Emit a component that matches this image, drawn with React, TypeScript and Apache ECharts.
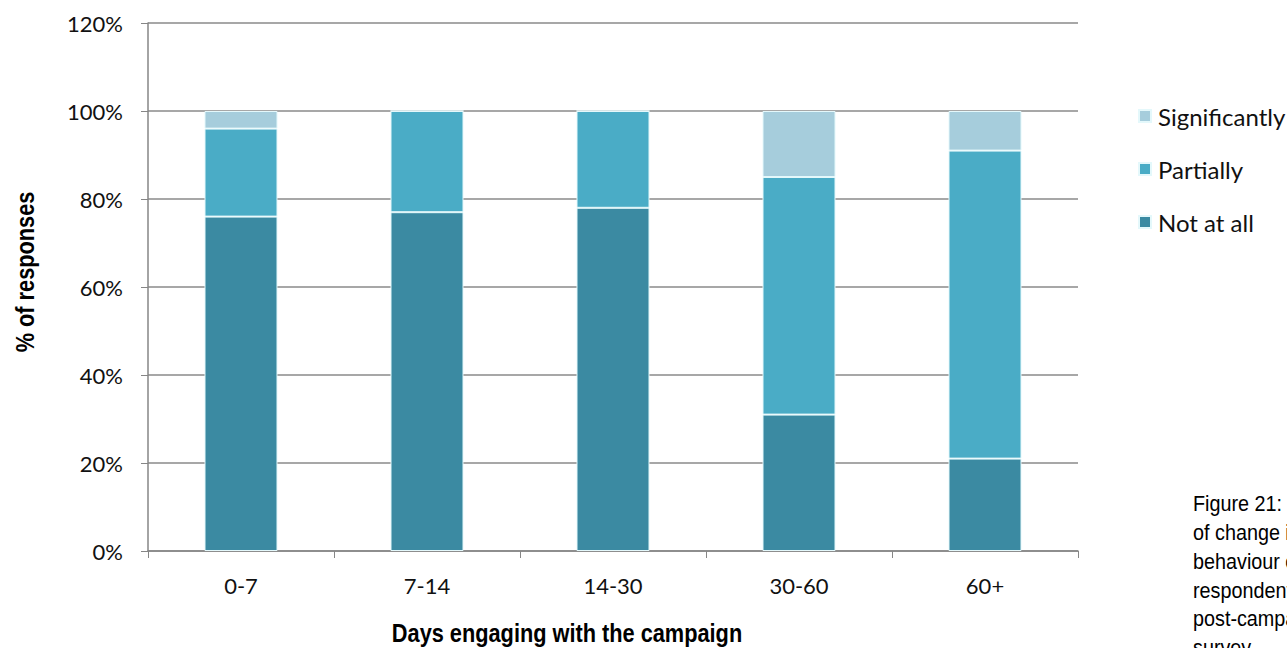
import React, { useEffect, useRef } from "react";
import * as echarts from "echarts";

// Days engaged with the campaign
const categories = ["0-7", "7-14", "14-30", "30-60", "60+"];

// Share of responses (%) per degree of behaviour change
const notAtAll = [76, 77, 78, 31, 21];
const partially = [20, 23, 22, 54, 70];
const significantly = [4, 0, 0, 15, 9];

const legendOrder = ["Significantly", "Partially", "Not at all"];

const captionLines = [
  "Figure 21: Extent",
  "of change in",
  "behaviour of",
  "respondents in",
  "post-campaign",
  "survey",
];

const LABEL_FONT = "Lato, 'Open Sans', sans-serif";
const TITLE_FONT = "'Liberation Sans', Arial, sans-serif";

export default function App() {
  const ref = useRef<HTMLDivElement>(null);

  useEffect(() => {
    if (!ref.current) return;
    const chart = echarts.init(ref.current, undefined, { renderer: "svg" });

    const barStyle = (color: string) => ({
      color,
      borderColor: "#E4F8FB",
      borderWidth: 1,
    });

    chart.setOption({
      animation: false,
      backgroundColor: "#ffffff",
      grid: { left: 148, right: 209, top: 23, bottom: 97, containLabel: false },
      legend: {
        orient: "vertical",
        left: 1133,
        top: 99,
        itemWidth: 12,
        itemHeight: 12,
        itemGap: 29,
        icon: "rect",
        data: legendOrder,
        textStyle: {
          fontFamily: LABEL_FONT,
          fontSize: 24,
          lineHeight: 24,
          color: "#111",
          padding: [0, 0, 0, 2],
        },
      },
      xAxis: {
        type: "category",
        data: categories,
        boundaryGap: true,
        axisLine: { lineStyle: { color: "#868686", width: 1.5 } },
        axisTick: { show: true, alignWithLabel: false, length: 7, lineStyle: { color: "#868686" } },
        axisLabel: { margin: 23, fontFamily: LABEL_FONT, fontSize: 22, color: "#111" },
        splitLine: { show: false },
      },
      yAxis: {
        type: "value",
        min: 0,
        max: 120,
        interval: 20,
        axisLine: { show: true, lineStyle: { color: "#868686", width: 1.5 } },
        axisTick: { show: true, length: 7, lineStyle: { color: "#868686" } },
        axisLabel: {
          formatter: "{value}%",
          margin: 25,
          fontFamily: LABEL_FONT,
          fontSize: 22,
          color: "#111",
        },
        splitLine: { show: true, lineStyle: { color: "#8a8a8a", width: 1.5 } },
      },
      series: [
        {
          name: "Not at all",
          type: "bar",
          stack: "total",
          barWidth: 73,
          data: notAtAll,
          itemStyle: barStyle("#3B8AA2"),
        },
        {
          name: "Partially",
          type: "bar",
          stack: "total",
          barWidth: 73,
          data: partially,
          itemStyle: barStyle("#4AACC6"),
        },
        {
          name: "Significantly",
          type: "bar",
          stack: "total",
          barWidth: 73,
          data: significantly,
          itemStyle: barStyle("#A6CDDC"),
        },
      ],
      graphic: [
        {
          type: "text",
          x: 25,
          y: 272,
          rotation: Math.PI / 2,
          scaleX: 0.87,
          style: {
            text: "% of responses",
            font: `bold 25px ${TITLE_FONT}`,
            fill: "#000",
            textAlign: "center",
            textVerticalAlign: "middle",
          },
        },
        {
          type: "text",
          x: 567,
          y: 633,
          scaleX: 0.87,
          style: {
            text: "Days engaging with the campaign",
            font: `bold 25px ${TITLE_FONT}`,
            fill: "#000",
            textAlign: "center",
            textVerticalAlign: "middle",
          },
        },
        {
          type: "text",
          x: 1193,
          y: 489,
          scaleX: 0.9,
          style: {
            text: captionLines.join("\n"),
            font: `22px ${TITLE_FONT}`,
            lineHeight: 28.8,
            fill: "#000",
            textAlign: "left",
            textVerticalAlign: "top",
          },
        },
      ],
    });

    return () => chart.dispose();
  }, []);

  return (
    <div
      ref={ref}
      style={{ position: "absolute", left: 0, top: 0, width: 1287, height: 648 }}
    />
  );
}
